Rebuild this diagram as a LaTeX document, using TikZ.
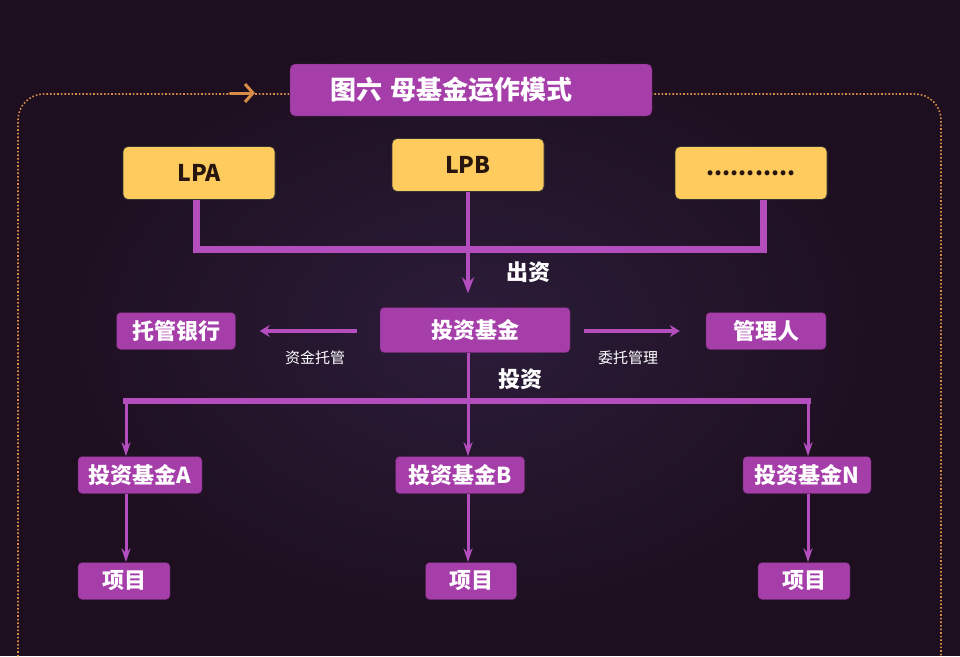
\documentclass[tikz,border=0pt]{standalone}
\usepackage{fontspec}
\newfontfamily\cjk{Noto Sans CJK SC}
\usetikzlibrary{arrows.meta, positioning, calc}
\definecolor{bgdark}{RGB}{29,15,31}
\definecolor{bgglow}{RGB}{44,28,58}
\definecolor{fundfill}{RGB}{166,62,170}
\definecolor{fundline}{RGB}{180,78,190}
\definecolor{lpfill}{RGB}{253,203,94}
\definecolor{lptext}{RGB}{40,22,14}
\definecolor{frameorange}{RGB}{215,140,72}

\begin{document}
\begin{tikzpicture}[
                        x=1pt, y=-1pt,
                        >=Stealth,
                        lpbox/.style={
                                rectangle, rounded corners=5pt,
                                fill=lpfill, draw=black!80, thick,
                                text=lptext,
                                minimum width=152pt, minimum height=53pt,
                                font=\cjk\bfseries\fontsize{23}{26}\selectfont
                            },
                        fundbox/.style={
                                rectangle, rounded corners=4pt,
                                fill=fundfill, draw=fundfill!55!black,
                                text=white, inner sep=2pt,
                                font=\cjk\bfseries\fontsize{22}{26}\selectfont
                            },
                        lbl/.style={text=white, font=\cjk\fontsize{15}{18}\selectfont},
                        boldlbl/.style={text=white, font=\cjk\bfseries\fontsize{22}{26}\selectfont},
                        busline/.style={draw=fundline, line width=6pt},
                        topline/.style={draw=fundline, line width=7pt},
                        downarrow/.style={draw=fundline, line width=3pt, -{Stealth[length=14pt, width=9pt]}},
                        sidearrow/.style={draw=fundline, line width=4pt, -{Stealth[length=10pt, width=12pt]}}
                    ]

                    % ===== Background and frame =====
                    \clip (0,0) rectangle (960,656);
                    \fill[bgdark] (0,0) rectangle (960,656);
                    \shade[inner color=bgglow, outer color=bgdark] (470,330) ellipse (430 and 300);
                    \draw[frameorange, dotted, line width=1.6pt, rounded corners=26pt]
                    (300,94) -- (18,94) -- (18,700);
                    \draw[frameorange, dotted, line width=1.6pt, rounded corners=26pt]
                    (640,94) -- (941,94) -- (941,700);
                    \coordinate (markstart) at (230,93);
                    \coordinate (markend) at (255,93);
                    \draw[frameorange, line width=3pt, line cap=round,
                    -{Straight Barb[length=8pt, width=18pt, line width=3pt]}] (markstart) -- (markend);

                    % ===== Title =====
                    \node[fundbox, rounded corners=5pt, minimum height=52pt, text width=282pt,
                    inner xsep=40pt, align=left, font=\cjk\bfseries\fontsize{26}{30}\selectfont]
                    (title) at (471,90) {图六~母基金运作模式};

                    % ===== Limited partners (top row) =====
                    \node[lpbox] (lpa) at (199,173) {LPA};
                    \node[lpbox] (lpb) at (468,165) {LPB};
                    \node[lpbox] (lpdots) at (751,173) {...........};

                    % ===== Middle row =====
                    \node[fundbox, minimum width=190pt, minimum height=45pt] (fund) at (475,330) {投资基金};
                    \node[fundbox, minimum width=119pt, minimum height=37pt] (bank) at (176,331) {托管银行};
                    \node[fundbox, minimum width=120pt, minimum height=37pt] (manager) at (766,331) {管理人};

                    % ===== Sub funds and projects =====
                    \node[fundbox, minimum width=124pt, minimum height=37pt] (funda) at (140,475) {投资基金A};
                    \node[fundbox, minimum width=129pt, minimum height=37pt] (fundb) at (460,475) {投资基金B};
                    \node[fundbox, minimum width=128pt, minimum height=37pt] (fundn) at (807,475) {投资基金N};
                    \node[fundbox, minimum width=92pt, minimum height=37pt] (proja) at (124,581) {项目};
                    \node[fundbox, minimum width=91pt, minimum height=37pt] (projb) at (471,581) {项目};
                    \node[fundbox, minimum width=92pt, minimum height=37pt] (projn) at (804,581) {项目};

                    % ===== Capital from LPs =====
                    \coordinate (bustop) at (0,249);
                    \coordinate (dotsleg) at ([xshift=12pt]lpdots.south);
                    \draw[topline] ([xshift=-3pt]lpa.south) -- ([xshift=-3pt]lpa.south |- bustop)
                    -- (dotsleg |- bustop) -- (dotsleg);
                    \draw[draw=fundline, line width=4pt, -{Stealth[length=16pt, width=12pt]}, shorten >=14pt]
                    (lpb.south) -- (lpb.south |- fund.north);
                    \node[boldlbl] (capital) at (528,272) {出资};

                    % ===== Custody and management =====
                    \draw[sidearrow, shorten <=23pt, shorten >=24pt] (fund.west |- bank.east) -- (bank.east);
                    \draw[sidearrow, shorten <=14pt, shorten >=26pt] (fund.east |- manager.west) -- (manager.west);
                    \node[lbl] (custody) at (315,358) {资金托管};
                    \node[lbl] (entrust) at (628,358) {委托管理};

                    % ===== Investment bus =====
                    \coordinate (busleft) at (126,401);
                    \coordinate (busright) at (808,401);
                    \draw[draw=fundline, line width=3pt] (lpb.south |- fund.south) -- (lpb.south |- busleft);
                    \node[boldlbl] (invest) at (520,379) {投资};
                    \draw[busline] ([xshift=-3pt]busleft) -- ([xshift=3pt]busright);
                    \draw[downarrow] (busleft) -- (funda.north -| busleft);
                    \draw[downarrow] (lpb.south |- busleft) -- (fundb.north -| lpb.south);
                    \draw[downarrow] (busright) -- (fundn.north -| busright);

                    % ===== Funds to projects =====
                    \draw[downarrow] (funda.south -| busleft) -- (proja.north -| busleft);
                    \draw[downarrow] (fundb.south -| lpb.south) -- (projb.north -| lpb.south);
                    \draw[downarrow] (fundn.south -| busright) -- (projn.north -| busright);

                \end{tikzpicture}
\end{document}
